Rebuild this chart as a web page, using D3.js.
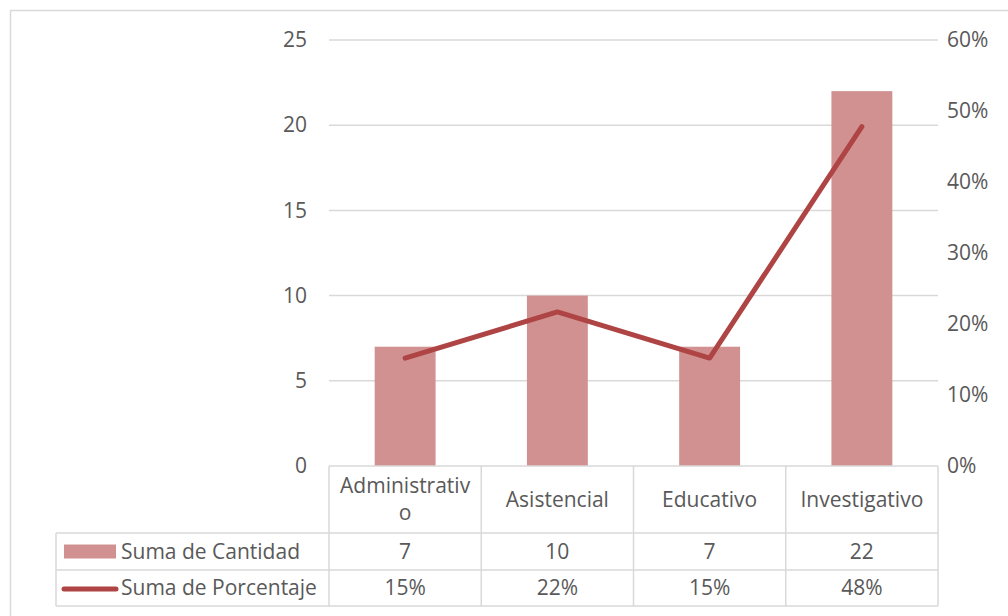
<!DOCTYPE html>
<html>
<head>
<meta charset="utf-8">
<script src="https://cdn.jsdelivr.net/npm/d3@7"></script>
<style>
  body { margin: 0; background: #fff; }
  svg text { font-family: "Open Sans", "Noto Sans", sans-serif; fill: #595959; }
</style>
</head>
<body>
<svg width="1008" height="616"></svg>
<script>
// data
var categories = ["Administrativo", "Asistencial", "Educativo", "Investigativo"];
var cantidad = [7, 10, 7, 22];
var porcentaje = [0.152, 0.217, 0.152, 0.478];
var cantidadTicks = [0, 5, 10, 15, 20, 25];
var porcentajeTicks = [0, 0.1, 0.2, 0.3, 0.4, 0.5, 0.6];
var seriesNames = ["Suma de Cantidad", "Suma de Porcentaje"];

var barColor = "#d29191",
	lineColor = "#ae4444",
	gridColor = "#d9d9d9",
	fontSize = 21;

var svg = d3.select("svg");

// plot box
var plotLeft = 329, plotRight = 938, plotTop = 40, plotBottom = 466;

// outer chart border (only top and left are visible)
svg.append("path")
	.attr("d", "M10.5,616 V10.5 H1008")
	.attr("fill", "none")
	.attr("stroke", gridColor)
	.attr("stroke-width", 1.5);

var xCol = d3.scaleBand().domain(categories).range([plotLeft, plotRight]).padding(0);
var xBar = d3.scaleBand().domain(categories).range([plotLeft, plotRight])
	.paddingInner(0.6).paddingOuter(0.3);
var yLeft = d3.scaleLinear().domain([0, 25]).range([plotBottom, plotTop]);
var yRight = d3.scaleLinear().domain([0, 0.6]).range([plotBottom, plotTop]);

// gridlines
svg.append("g").selectAll("line")
	.data(cantidadTicks.slice(1))
	.enter().append("line")
	.attr("x1", plotLeft).attr("x2", plotRight)
	.attr("y1", d => yLeft(d)).attr("y2", d => yLeft(d))
	.attr("stroke", gridColor).attr("stroke-width", 1.5);

// left axis
var gl = svg.append("g")
	.attr("transform", "translate(" + (plotLeft - 22) + ",0)")
	.call(d3.axisLeft(yLeft).tickValues(cantidadTicks).tickSize(0).tickPadding(0));
gl.select(".domain").remove();
gl.selectAll("text").style("font-size", fontSize + "px").attr("fill", "#595959");
gl.attr("font-family", null).attr("font-size", null);

// right axis
var gr = svg.append("g")
	.attr("transform", "translate(" + (plotRight + 9) + ",0)")
	.call(d3.axisRight(yRight).tickValues(porcentajeTicks)
		.tickFormat(d3.format(".0%")).tickSize(0).tickPadding(0));
gr.select(".domain").remove();
gr.selectAll("text").style("font-size", fontSize + "px").attr("fill", "#595959");
gr.attr("font-family", null).attr("font-size", null);

// bars
svg.append("g").selectAll("rect")
	.data(cantidad)
	.enter().append("rect")
	.attr("x", (d, i) => xBar(categories[i]))
	.attr("y", d => yLeft(d))
	.attr("width", xBar.bandwidth())
	.attr("height", d => yLeft(0) - yLeft(d))
	.attr("fill", barColor);

// line
var line = d3.line()
	.x((d, i) => xCol(categories[i]) + xCol.bandwidth() / 2)
	.y(d => yRight(d));
svg.append("path")
	.datum(porcentaje)
	.attr("d", line)
	.attr("fill", "none")
	.attr("stroke", lineColor)
	.attr("stroke-width", 5)
	.attr("stroke-linecap", "round")
	.attr("stroke-linejoin", "round");

// data table
var headBottom = 533, row1Bottom = 570, row2Bottom = 606, tableLeft = 56;
var tbl = svg.append("g").attr("stroke", gridColor).attr("stroke-width", 1.5);
// horizontal lines
[[plotLeft, plotBottom], [tableLeft, headBottom], [tableLeft, row1Bottom], [tableLeft, row2Bottom]]
	.forEach(function(p) {
		tbl.append("line").attr("x1", p[0]).attr("x2", plotRight)
			.attr("y1", p[1]).attr("y2", p[1]);
	});
// vertical lines
tbl.append("line").attr("x1", tableLeft).attr("x2", tableLeft)
	.attr("y1", headBottom).attr("y2", row2Bottom);
categories.concat([null]).forEach(function(c, i) {
	var x = c ? xCol(c) : plotRight;
	tbl.append("line").attr("x1", x).attr("x2", x)
		.attr("y1", plotBottom).attr("y2", row2Bottom);
});

// header texts, wrapped by characters when wider than the cell
var header = svg.append("g").style("font-size", fontSize + "px");
categories.forEach(function(c) {
	var cx = xCol(c) + xCol.bandwidth() / 2;
	var maxW = xCol.bandwidth() - 12;
	var t = header.append("text").attr("text-anchor", "middle").text(c);
	var lines = [c];
	if (t.node().getComputedTextLength() > maxW) {
		var cut = c.length;
		while (cut > 1) {
			t.text(c.slice(0, cut));
			if (t.node().getComputedTextLength() <= maxW) break;
			cut--;
		}
		lines = [c.slice(0, cut), c.slice(cut)];
	}
	t.text(null);
	var lh = 27;
	var y0 = (plotBottom + headBottom) / 2 - (lines.length - 1) * lh / 2;
	lines.forEach(function(l, k) {
		t.append("tspan").attr("x", cx).attr("y", y0 + k * lh)
			.attr("dy", "0.35em").text(l);
	});
});

// value rows
var rows = [
	{ y: (headBottom + row1Bottom) / 2, vals: cantidad.map(d => d) },
	{ y: (row1Bottom + row2Bottom) / 2, vals: porcentaje.map(d3.format(".0%")) }
];
rows.forEach(function(r) {
	svg.append("g").selectAll("text")
		.data(r.vals)
		.enter().append("text")
		.attr("x", (d, i) => xCol(categories[i]) + xCol.bandwidth() / 2)
		.attr("y", r.y)
		.attr("dy", "0.35em")
		.attr("text-anchor", "middle")
		.style("font-size", fontSize + "px")
		.text(d => d);
});

// legend keys inside the table
svg.append("rect")
	.attr("x", 64).attr("y", rows[0].y - 7)
	.attr("width", 52).attr("height", 14)
	.attr("fill", barColor);
svg.append("line")
	.attr("x1", 64).attr("x2", 116)
	.attr("y1", rows[1].y + 1).attr("y2", rows[1].y + 1)
	.attr("stroke", lineColor).attr("stroke-width", 5)
	.attr("stroke-linecap", "round");
seriesNames.forEach(function(s, i) {
	svg.append("text")
		.attr("x", 121).attr("y", rows[i].y)
		.attr("dy", "0.35em")
		.style("font-size", fontSize + "px")
		.text(s);
});
</script>
</body>
</html>
